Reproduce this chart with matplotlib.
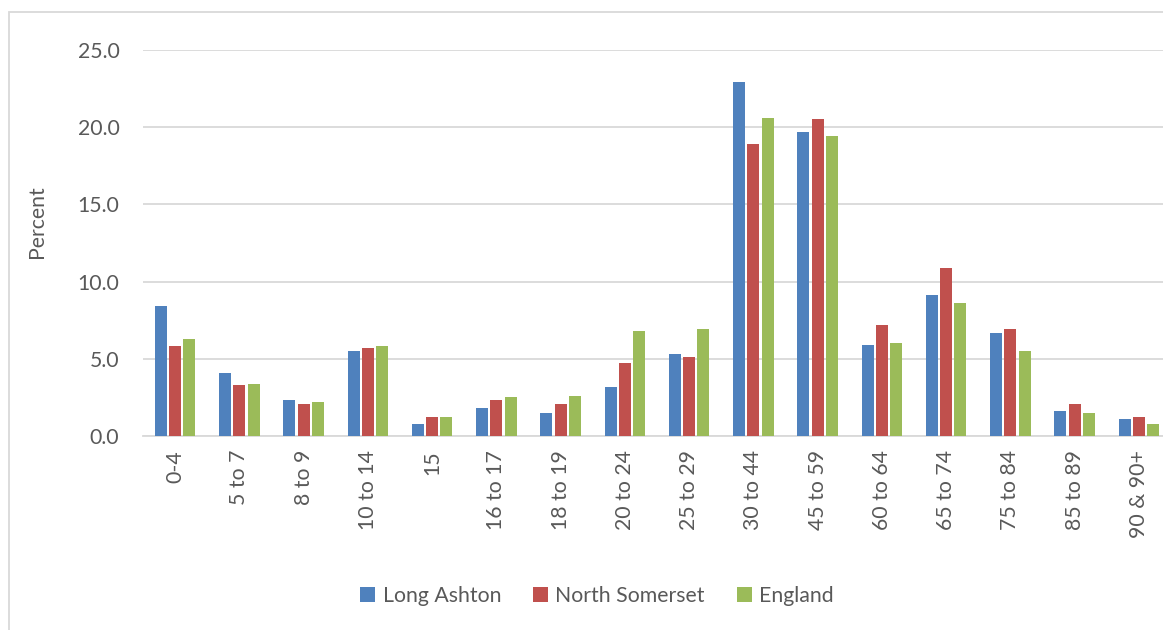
import matplotlib.pyplot as plt
import matplotlib.patches as mpatches
import numpy as np

plt.rcParams['font.family'] = ['Lato', 'DejaVu Sans']

categories = ['0-4', '5 to 7', '8 to 9', '10 to 14', '15', '16 to 17', '18 to 19',
              '20 to 24', '25 to 29', '30 to 44', '45 to 59', '60 to 64',
              '65 to 74', '75 to 84', '85 to 89', '90 & 90+']
long_ashton = [8.4, 4.1, 2.3, 5.5, 0.8, 1.8, 1.5, 3.2, 5.3, 22.9, 19.7, 5.9, 9.1, 6.7, 1.6, 1.1]
north_somerset = [5.8, 3.3, 2.1, 5.7, 1.2, 2.3, 2.1, 4.7, 5.1, 18.9, 20.5, 7.2, 10.9, 6.9, 2.1, 1.2]
england = [6.3, 3.4, 2.2, 5.8, 1.2, 2.5, 2.6, 6.8, 6.9, 20.6, 19.4, 6.0, 8.6, 5.5, 1.5, 0.8]

series = [('Long Ashton', long_ashton, '#4F81BD'),
          ('North Somerset', north_somerset, '#C0504D'),
          ('England', england, '#9BBB59')]

W, H = 1163, 630
fig = plt.figure(figsize=(W / 100, H / 100), dpi=100)
# axes run past the right edge, like the cropped original
left, right, bottom, top = 143, 1171, 436, 50
ax = fig.add_axes([left / W, 1 - bottom / H, (right - left) / W, (bottom - top) / H])

x = np.arange(len(categories))
for i, (name, vals, col) in enumerate(series):
    ax.bar(x + (i - 1) * 0.222, vals, width=0.19, color=col, label=name, zorder=3)

ax.set_xlim(-0.5, len(categories) - 0.5)
ax.set_ylim(0, 25)
ax.set_yticks(np.arange(0, 26, 5))
ax.set_yticklabels(['%.1f' % v for v in np.arange(0, 26, 5)])
ax.set_xticks(x)
ax.set_xticklabels(categories, rotation=90)

grey = '#595959'
fs = 15.3
ax.grid(axis='y', color='#d9d9d9', lw=1.3, zorder=0)
ax.tick_params(axis='both', length=0, labelsize=fs, labelcolor=grey)
ax.tick_params(axis='y', pad=17)
ax.tick_params(axis='x', pad=10)
for s in ['top', 'right', 'left']:
    ax.spines[s].set_visible(False)
ax.spines['bottom'].set_color('#d9d9d9')
ax.spines['bottom'].set_lw(1.3)

ax.set_ylabel('Percent', fontsize=fs, color=grey)
ax.yaxis.set_label_coords((47 - left) / (right - left), (bottom - 222) / (bottom - top))

fig.legend(loc='center', bbox_to_anchor=(597 / W, 1 - 596 / H), ncol=3, frameon=False,
           fontsize=fs, labelcolor=grey, handlelength=0.7, handleheight=0.7,
           handletextpad=0.35, columnspacing=1.5)

# outer chart frame (only left and top edges are visible)
fig.patches.append(mpatches.Rectangle((9 / W, -0.1), 1.2, 1 - 12 / H + 0.1,
                                      transform=fig.transFigure, fill=False,
                                      edgecolor='#d9d9d9', lw=1.3))

fig.savefig('out.png', dpi=100)
